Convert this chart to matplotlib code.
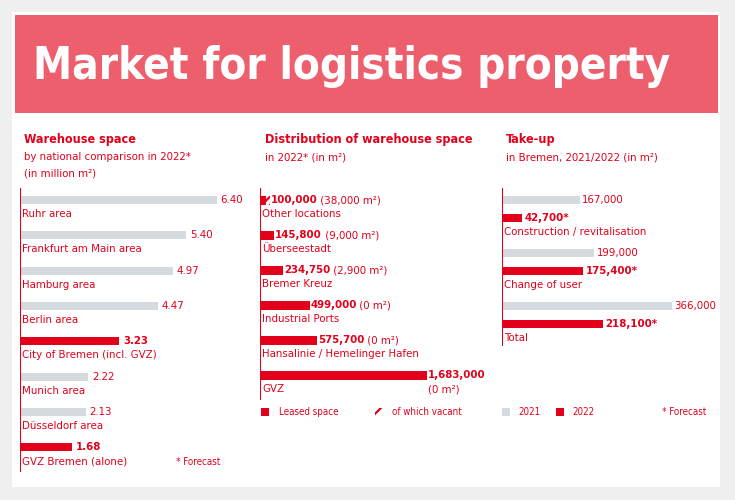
import matplotlib
matplotlib.use("Agg")
import matplotlib.pyplot as plt
from matplotlib.patches import Rectangle

# Data
wh_regions = ["Ruhr area", "Frankfurt am Main area", "Hamburg area", "Berlin area",
              "City of Bremen (incl. GVZ)", "Munich area", "Düsseldorf area", "GVZ Bremen (alone)"]
wh_values = [6.40, 5.40, 4.97, 4.47, 3.23, 2.22, 2.13, 1.68]
wh_highlight = [False, False, False, False, True, False, False, True]

dist_locs = ["Other locations", "Überseestadt", "Bremer Kreuz", "Industrial Ports",
             "Hansalinie / Hemelinger Hafen", "GVZ"]
dist_leased = [100000, 145800, 234750, 499000, 575700, 1683000]
dist_vacant = [38000, 9000, 2900, 0, 0, 0]

tu_cats = ["Construction / revitalisation", "Change of user", "Total"]
tu_2021 = [167000, 199000, 366000]
tu_2022 = [42700, 175400, 218100]

RED = "#e2001a"
GREY = "#d4dade"
PINK = "#ee5f6e"
W, H = 735, 500
plt.rcParams["font.family"] = "DejaVu Sans"
plt.rcParams["font.stretch"] = "condensed"
plt.rcParams["hatch.linewidth"] = 1.6
plt.rcParams["hatch.color"] = RED

fig = plt.figure(figsize=(W/100, H/100), dpi=100, facecolor="#efefef")
fig.patches.append(Rectangle((12/W, 13/H), 708/W, 475/H, transform=fig.transFigure,
                             facecolor="white", edgecolor="none", zorder=-10))
fig.patches.append(Rectangle((15/W, 1-113/H), 703/W, 98/H, transform=fig.transFigure,
                             facecolor=PINK, edgecolor="none", zorder=-9))
fig.text(33/W, 1-66/H, "Market for logistics property", color="white", fontsize=31.5,
         fontweight="bold", va="center", ha="left", family="DejaVu Sans", fontstretch="condensed")

def fx(px): return px / W
def fy(py): return 1 - py / H

def mkax(x0, x1, y0, y1, xmax):
    ax = fig.add_axes([fx(x0), fy(y1), fx(x1) - fx(x0), (y1 - y0) / H])
    ax.set_xlim(0, xmax)
    ax.set_ylim(y1, y0)
    ax.axis("off")
    ax.patch.set_alpha(0)
    return ax

fs = 8.2
# Left panel
fig.text(fx(24), fy(139), "Warehouse space", color=RED, fontsize=9, fontweight="bold", va="center")
fig.text(fx(24), fy(157), "by national comparison in 2022*", color=RED, fontsize=8.2, va="center")
fig.text(fx(24), fy(174), "(in million m²)", color=RED, fontsize=8.2, va="center")
ax1 = mkax(20, 240, 188, 472, 6.40 * 220 / 197)
ax1.axvline(0, color=RED, lw=1.5)
for i, (n, v, h) in enumerate(zip(wh_regions, wh_values, wh_highlight)):
    y = 200 + i * 35.3
    ax1.barh(y, v, height=8, color=RED if h else GREY, left=0)
    ax1.text(v + 0.12, y, f"{v:.2f}", color=RED, fontsize=fs, va="center",
             fontweight="bold" if h else "normal")
    ax1.text(0.05, y + 14, n, color=RED, fontsize=fs, va="center")
fig.text(fx(176), fy(462), "* Forecast", color=RED, fontsize=7, va="center")

# Middle panel
fig.text(fx(265), fy(139), "Distribution of warehouse space", color=RED, fontsize=9, fontweight="bold", va="center")
fig.text(fx(265), fy(157), "in 2022* (in m²)", color=RED, fontsize=8.2, va="center")
xm = 1683000 * 230 / 167
ax2 = mkax(260, 490, 188, 400, xm)
ax2.axvline(0, color=RED, lw=1.5)
for i, (n, l, v) in enumerate(zip(dist_locs, dist_leased, dist_vacant)):
    y = 200 + i * 35
    ax2.barh(y, l - v, height=9, color=RED)
    if v:
        ax2.barh(y, v, left=l - v, height=9, facecolor="white", edgecolor=RED, hatch="////", lw=0)
    t = ax2.text(l + 6000, y, f"{l:,}", color=RED, fontsize=fs, va="center", fontweight="bold")
    if i < 5:
        ax2.annotate(f" ({v:,} m²)", xy=(1, 0.5), xycoords=t, color=RED, fontsize=fs, va="center")
    else:
        ax2.text(l + 6000, y + 14, "(0 m²)", color=RED, fontsize=fs, va="center")
    ax2.text(20000, y + 14, n, color=RED, fontsize=fs, va="center")
# Legend middle
fig.patches.append(Rectangle((fx(261), fy(416)), 8/W, 8/H, transform=fig.transFigure, facecolor=RED))
fig.text(fx(279), fy(412), "Leased space", color=RED, fontsize=7, va="center")
fig.patches.append(Rectangle((fx(375), fy(416)), 8/W, 8/H, transform=fig.transFigure, facecolor="white",
                             edgecolor=RED, hatch="///", lw=0))
fig.text(fx(392), fy(412), "of which vacant", color=RED, fontsize=7, va="center")

# Right panel
fig.text(fx(506), fy(139), "Take-up", color=RED, fontsize=9, fontweight="bold", va="center")
fig.text(fx(506), fy(157), "in Bremen, 2021/2022 (in m²)", color=RED, fontsize=8.2, va="center")
ax3 = mkax(502, 720, 188, 346, 366000 * 218 / 170)
ax3.axvline(0, color=RED, lw=1.5)
for i, (n, a, b) in enumerate(zip(tu_cats, tu_2021, tu_2022)):
    y = 200 + i * 53
    ax3.barh(y, a, height=8, color=GREY)
    ax3.text(a + 5000, y, f"{a:,}", color=RED, fontsize=fs, va="center")
    ax3.barh(y + 18, b, height=8, color=RED)
    ax3.text(b + 5000, y + 18, f"{b:,}*", color=RED, fontsize=fs, va="center", fontweight="bold")
    ax3.text(5000, y + 32, n, color=RED, fontsize=fs, va="center")
fig.patches.append(Rectangle((fx(502), fy(416)), 8/W, 8/H, transform=fig.transFigure, facecolor=GREY))
fig.text(fx(518), fy(412), "2021", color=RED, fontsize=7, va="center")
fig.patches.append(Rectangle((fx(556), fy(416)), 8/W, 8/H, transform=fig.transFigure, facecolor=RED))
fig.text(fx(572), fy(412), "2022", color=RED, fontsize=7, va="center")
fig.text(fx(662), fy(412), "* Forecast", color=RED, fontsize=7, va="center")

fig.savefig("out.png", dpi=100, facecolor=fig.get_facecolor())
